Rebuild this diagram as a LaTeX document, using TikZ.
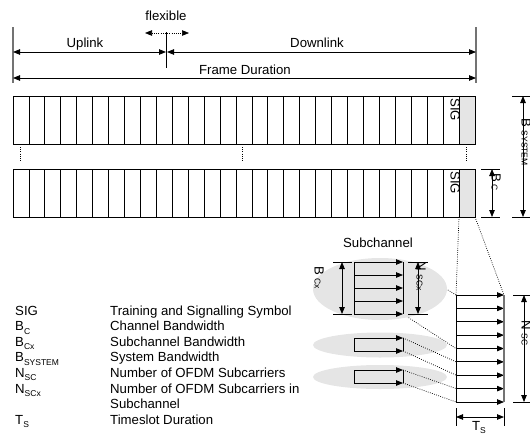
\documentclass[tikz,border=0pt]{standalone}
\usepackage{fontspec}
\setmainfont{Liberation Sans}
\usetikzlibrary{arrows.meta}
\begin{document}
\begin{tikzpicture}[x=1pt,y=-1pt,
  ln/.style={line width=0.8pt, black},
  gln/.style={line width=1.4pt, black!55},
  dim/.style={line width=0.8pt, {Triangle[length=7pt,width=5.5pt]}-{Triangle[length=7pt,width=5.5pt]}},
  carrier/.style={line width=0.8pt, -{Triangle[length=7pt,width=5.5pt]}},
  dots/.style={line width=0.7pt, dash pattern=on 0.8pt off 1.4pt},
  txt/.style={font=\fontsize{13.2}{13.8}\selectfont, inner sep=0pt},
  blob/.style={fill=black!10, draw=none}
]
\newcommand{\sbs}[1]{{\fontsize{8.5}{8.5}\selectfont #1}}
\newcommand{\lsub}[1]{\raisebox{-3.5pt}{\sbs{#1}}}
\useasboundingbox (0,0) rectangle (530,434);

% ---------- top: uplink / downlink / frame ----------
\coordinate (L1) at (13,27); \coordinate (L2) at (13,83);
\coordinate (R1) at (476,27); \coordinate (R2) at (476,83);
\draw[gln] (L1) -- (L2);
\draw[gln] (R1) -- (R2);
\coordinate (M1) at (166,32); \coordinate (M2) at (166,68);
\draw[ln] (M1) -- (M2);
\coordinate (uA) at (13,52); \coordinate (uB) at (166,52);
\coordinate (dA) at (167,52); \coordinate (dB) at (476,52);
\draw[dim] (uA) -- (uB);
\draw[dim] (dA) -- (dB);
\coordinate (fA) at (13,78); \coordinate (fB) at (476,78);
\draw[dim] (fA) -- (fB);
\coordinate (xA) at (145,33); \coordinate (xB) at (189,33);
\draw[dim, dots] (xA) -- (xB);
\node[txt, anchor=base] (flex) at (166,20) {flexible};
\node[txt, anchor=base] (up) at (85,47) {Uplink};
\node[txt, anchor=base] (down) at (317,47) {Downlink};
\node[txt, anchor=base] (frame) at (245,74) {Frame Duration};

% ---------- frame rows ----------
\foreach \yt in {96,169} {
  \fill[black!10] (459,\yt) rectangle (475,{\yt+48});
  \foreach \i in {1,...,28} \draw[ln] ({13+\i*15.93},\yt) -- ({13+\i*15.93},{\yt+48});
  \draw[ln] (13,\yt) rectangle (475,{\yt+48});
}
\node[txt, rotate=-90, anchor=north west] (sig1) at (460,98) {SIG};
\node[txt, rotate=-90, anchor=north west] (sig2) at (460,171) {SIG};
\foreach \x in {20,242,466} \draw[dots] (\x,147) -- (\x,162);

% B_C
\draw[ln] (481,169) -- (500,169);
\draw[ln] (481,217) -- (500,217);
\coordinate (bcA) at (492,169); \coordinate (bcB) at (492,217);
\draw[dim] (bcA) -- (bcB);
\node[txt, rotate=-90, anchor=north west] (bc) at (501,173) {B\,\sbs{C}};
% B_SYSTEM
\draw[ln] (512,96) -- (530,96);
\draw[ln] (512,217) -- (530,217);
\coordinate (bsA) at (523,96); \coordinate (bsB) at (523,217);
\draw[dim] (bsA) -- (bsB);
\node[txt, rotate=-90, anchor=north west] (bs) at (531,118) {B\ \sbs{SYSTEM}};

% ---------- detail (zoom of SIG) ----------
\coordinate (g1) at (459,217); \coordinate (g2) at (475,217);
\coordinate (D0) at (456,295); \coordinate (D1) at (504,295);
\draw[dots] (g1) -- (D0);
\draw[dots] (g2) -- (D1);

% subchannel dotted links (hidden behind big ellipse)
\draw[dots] (403,262) -- (456,295);
\draw[dots] (403,314) -- (456,348.5);
\fill[blob] (380,289) ellipse [x radius=67, y radius=31];
\fill[blob] (380,345) ellipse [x radius=67, y radius=12.5];
\fill[blob] (380,377) ellipse [x radius=67, y radius=12];
\draw[dots] (403,338) -- (456,361.8);
\draw[dots] (403,351) -- (456,375.1);
\draw[dots] (403,370) -- (456,388.5);
\draw[dots] (403,383) -- (456,402);

\node[txt, anchor=base] (subch) at (378,247) {Subchannel};

% subchannel box
\draw[ln] (354,262) -- (354,314);
\draw[ln] (403,262) -- (403,314);
\foreach \y in {262,275,288,301,314} \draw[carrier] (354,\y) -- (403,\y);
% B_Cx
\draw[ln] (333,262) -- (352,262);
\draw[ln] (333,314) -- (352,314);
\draw[dim] (342,262) -- (342,314);
\node[txt, rotate=-90, anchor=north west] (bcx) at (324,266) {B\ \sbs{Cx}};
% N_SCx
\draw[ln] (408,262) -- (428,262);
\draw[ln] (408,314) -- (428,314);
\draw[dim] (418,262) -- (418,314);
\node[txt, rotate=-90, anchor=north west] (nscx) at (426,261) {N\ \sbs{SCx}};

% small boxes
\foreach \a/\b in {338/351, 370/383} {
  \draw[ln] (354,\a) -- (354,\b);
  \draw[ln] (403,\a) -- (403,\b);
  \draw[carrier] (354,\a) -- (403,\a);
  \draw[carrier] (354,\b) -- (403,\b);
}

% detail box
\draw[ln] (456,295) -- (456,402);
\foreach \k in {0,...,8} \draw[carrier] (456,{295+\k*13.375}) -- (504,{295+\k*13.375});
\draw[gln] (504,295) -- (504,402);
% N_SC
\draw[ln] (513,295) -- (530,295);
\draw[ln] (513,402) -- (530,402);
\draw[dim] (524,295) -- (524,402);
\node[txt, rotate=-90, anchor=north west] (nsc) at (531,320) {N\ \sbs{SC}};
% T_S
\draw[ln] (456,408) -- (456,426);
\draw[ln] (504,408) -- (504,426);
\draw[dim] (456,417) -- (504,417);
\node[txt, anchor=base] (ts) at (479,430) {T\lsub{S}};

% ---------- legend ----------
\foreach \lab/\desc [count=\k from 0] in {
  SIG/Training and Signalling Symbol,
  B\lsub{C}/Channel Bandwidth,
  B\lsub{Cx}/Subchannel Bandwidth,
  B\lsub{SYSTEM}/System Bandwidth,
  N\lsub{SC}/Number of OFDM Subcarriers,
  N\lsub{SCx}/Number of OFDM Subcarriers in,
  /Subchannel,
  T\lsub{S}/Timeslot Duration} {
  \node[txt, anchor=base west] (lab\k) at (15,{315+\k*15.6}) {\lab};
  \node[txt, anchor=base west] (desc\k) at (110,{315+\k*15.6}) {\desc};
}
\end{tikzpicture}
\end{document}
